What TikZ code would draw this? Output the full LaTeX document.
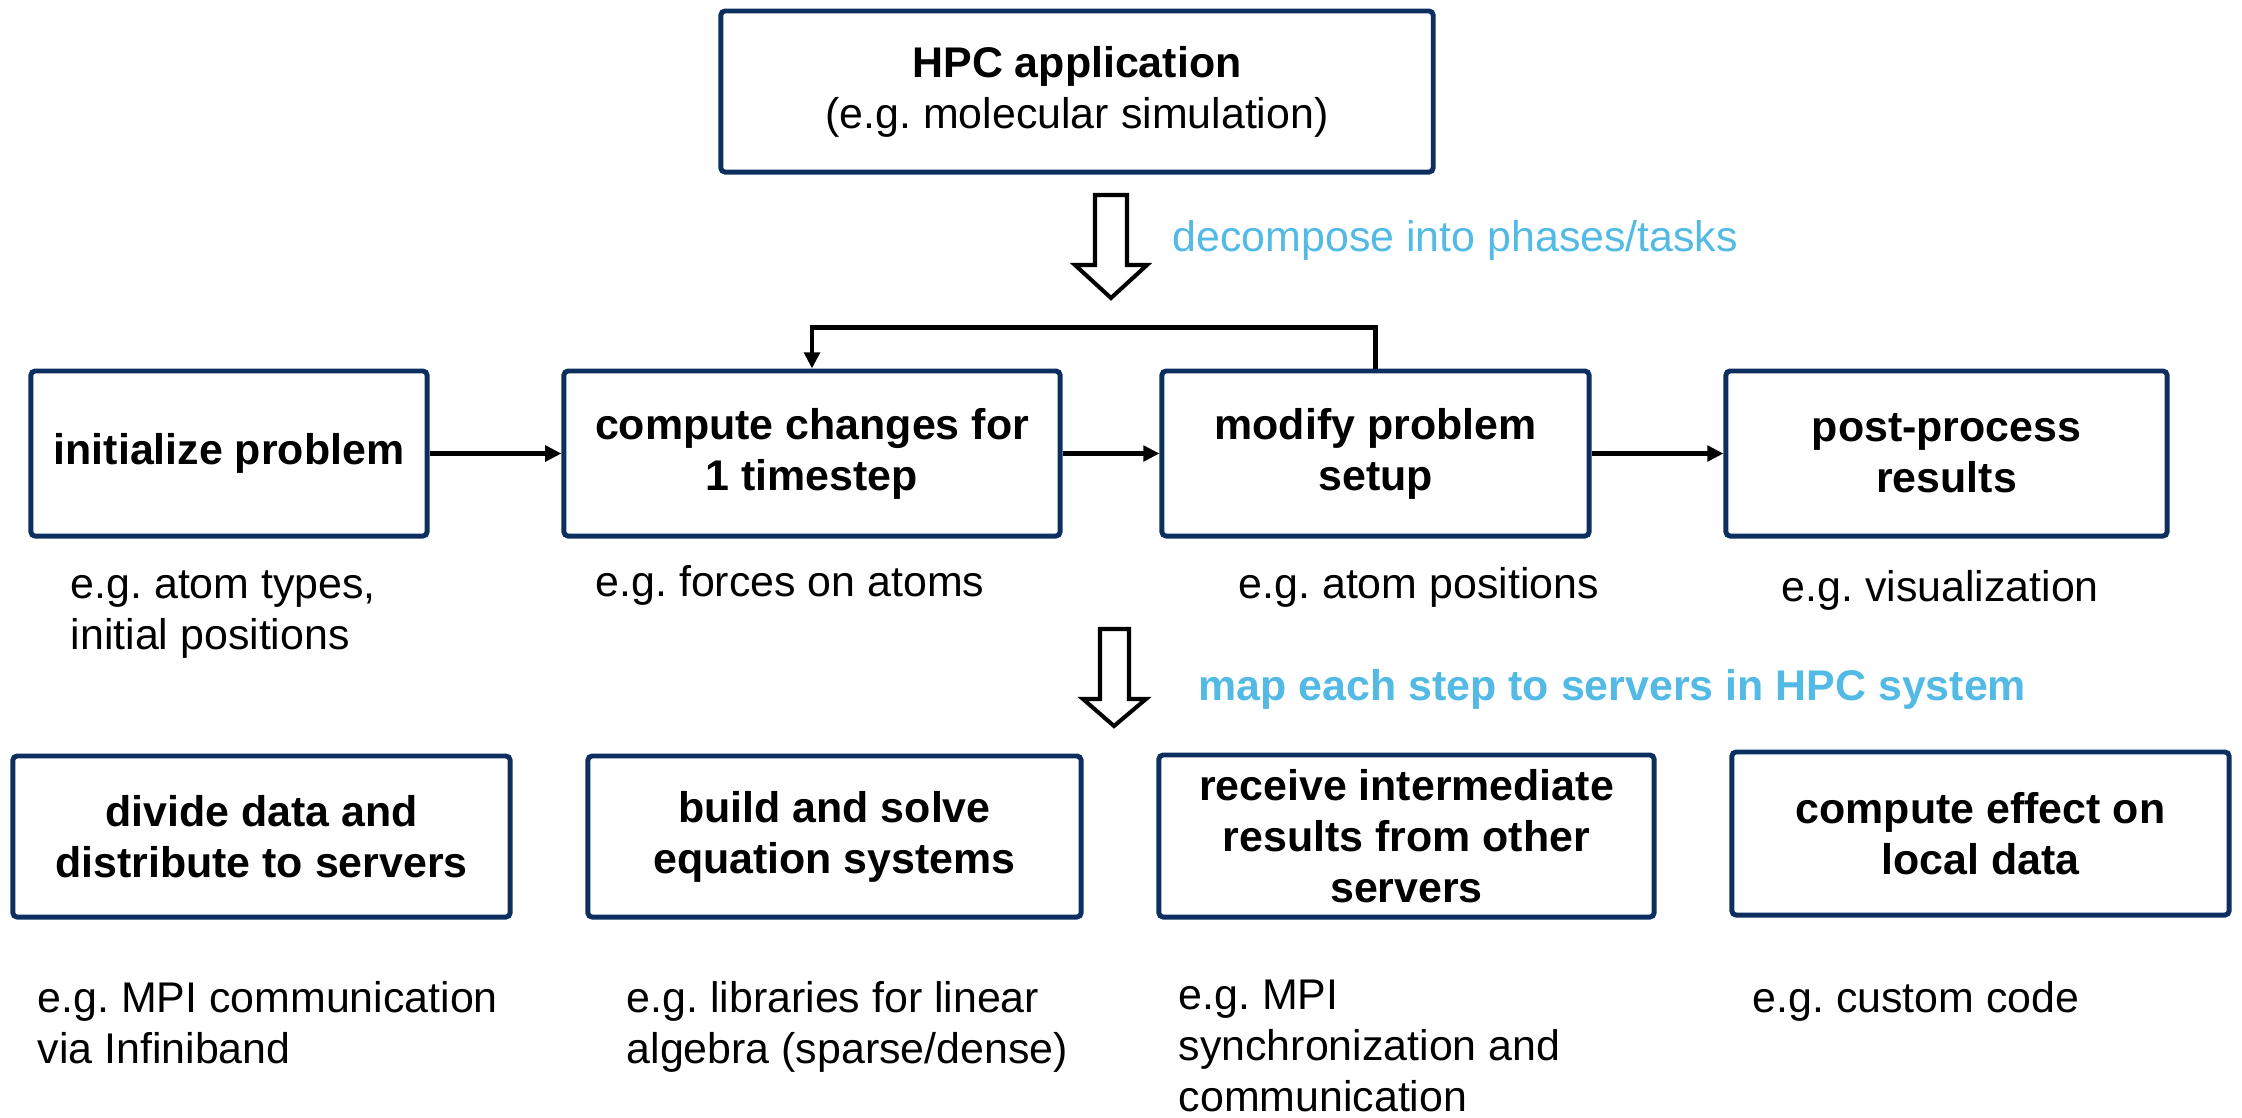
\documentclass[tikz,border=0pt]{standalone}
\usepackage{fontspec}
\setmainfont{Liberation Sans}
\usetikzlibrary{arrows.meta}
\definecolor{navy}{RGB}{12,47,96}
\definecolor{skyb}{RGB}{82,186,228}
\frenchspacing
\begin{document}
\begin{tikzpicture}[x=0.01cm,y=-0.01cm,
  every node/.style={font=\fontsize{12.2pt}{14.5pt}\selectfont},
  box/.style={draw=navy, line width=1.4pt, rounded corners=1.2pt, inner sep=0pt, align=center,
    font=\fontsize{12.2pt}{14.5pt}\selectfont\bfseries},
  note/.style={anchor=base west, inner sep=0pt, align=left},
  hint/.style={anchor=base west, inner sep=0pt, text=skyb},
  conn/.style={line width=1.15pt, -{Triangle[length=4.6pt,width=4.4pt]}},
  bigarrow/.style={draw=black, line width=1.15pt, fill=white, line join=miter}
]
\useasboundingbox (0,0) rectangle (2242,1117);

% top box
\node[box, minimum width=7.12cm, minimum height=1.61cm] (hpc) at (1077,91.5)
  {HPC application\\{\mdseries (e.g. molecular simulation)}};

% hollow arrow 1
\draw[bigarrow] (1095,195) -- (1127,195) -- (1127,265) -- (1147,265) -- (1111,298)
  -- (1075,265) -- (1095,265) -- cycle;
\node[hint] (dec) at (1172,251) {decompose into phases/tasks};

% row 2
\node[box, minimum width=3.96cm, minimum height=1.65cm] (init) at (229,453.5) {initialize problem};
\node[box, minimum width=4.96cm, minimum height=1.65cm] (compute) at (812,453.5) {compute changes for\\1 timestep};
\node[box, minimum width=4.27cm, minimum height=1.65cm] (modify) at (1375.5,453.5) {modify problem\\setup};
\node[box, minimum width=4.41cm, minimum height=1.65cm] (post) at (1946.5,453.5) {post-process\\results};

\draw[conn] (init.east) -- (compute.west);
\draw[conn] (compute.east) -- (modify.west);
\draw[conn] (modify.east) -- (post.west);
\draw[conn, line join=miter] (modify.north) -- ++(0,-41) -| (compute.north);

% base anchor of a multi-line note is its last baseline
\node[note] (n1) at (70,649) {e.g. atom types,\\initial positions};
\node[note] (n2) at (595,596) {e.g. forces on atoms};
\node[note] (n3) at (1238,598) {e.g. atom positions};
\node[note] (n4) at (1781,601) {e.g. visualization};

% hollow arrow 2
\draw[bigarrow] (1100,629) -- (1129,629) -- (1129,699) -- (1146,699) -- (1114,726)
  -- (1083,699) -- (1100,699) -- cycle;
\node[hint, font=\fontsize{12.2pt}{14.5pt}\selectfont\bfseries] (map) at (1198,700) {map each step to servers in HPC system};

% row 3
\node[box, minimum width=4.97cm, minimum height=1.61cm] (divide) at (261.5,836.5) {divide data and\\distribute to servers};
\node[box, minimum width=4.93cm, minimum height=1.61cm] (build) at (834.5,836.5) {build and solve\\equation systems};
\node[box, minimum width=4.95cm, minimum height=1.62cm] (receive) at (1406.5,836) {receive intermediate\\results from other\\servers};
\node[box, minimum width=4.97cm, minimum height=1.63cm] (effect) at (1980.5,833.5) {compute effect on\\local data};

\node[note] (m1) at (37,1063) {e.g. MPI communication\\via Infiniband};
\node[note] (m2) at (626,1063) {e.g. libraries for linear\\algebra (sparse/dense)};
\node[note] (m3) at (1178,1111) {e.g. MPI\\synchronization and\\communication};
\node[note] (m4) at (1752,1012) {e.g. custom code};
\end{tikzpicture}
\end{document}
